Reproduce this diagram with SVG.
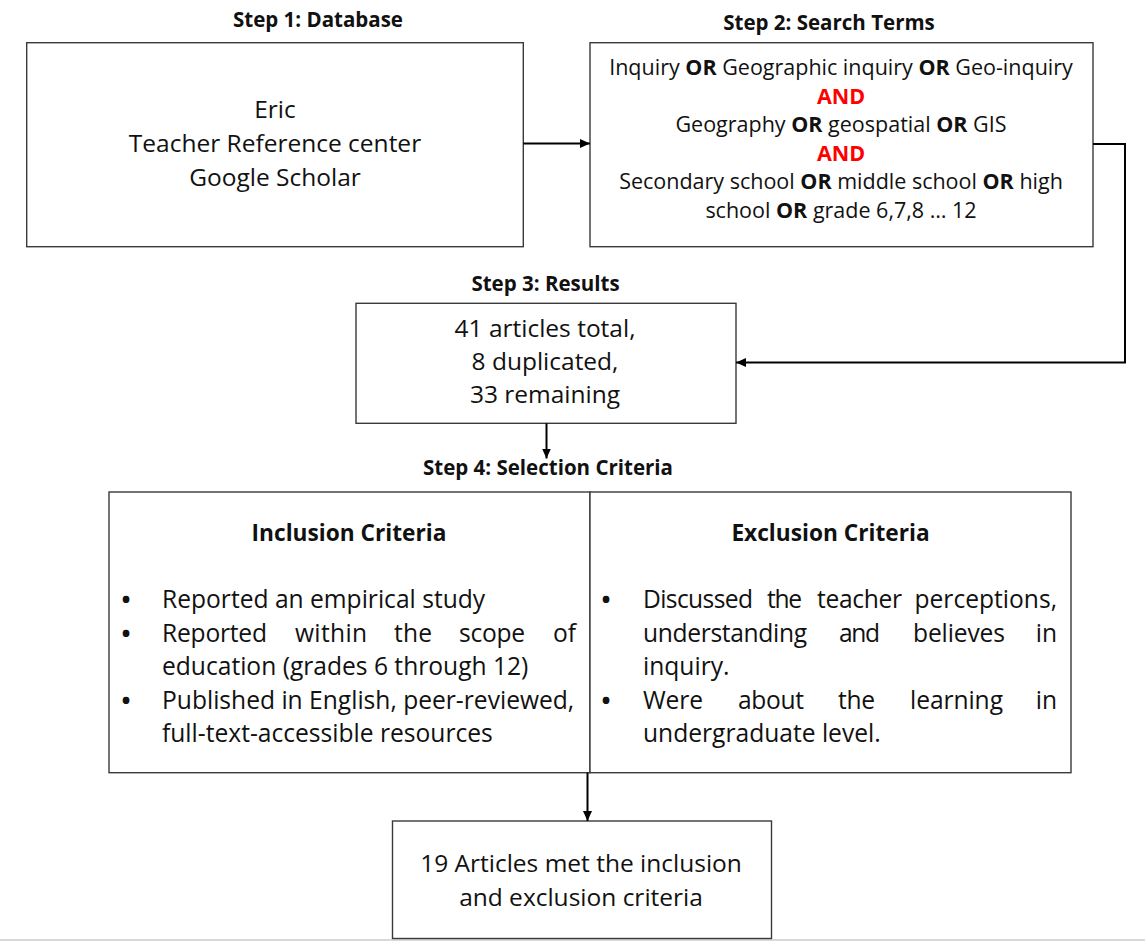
<svg xmlns="http://www.w3.org/2000/svg" width="1145" height="941" viewBox="0 0 1145 941">
<style>
.box{fill:#fff;stroke:#3a3a3a;stroke-width:1.4}
.t{font-family:"Open Sans","Noto Sans",sans-serif;fill:#111;font-size:24.5px}
.c{text-anchor:middle}
.e{text-anchor:end}
.h{font-family:"Open Sans","Noto Sans",sans-serif;font-weight:bold;fill:#111;font-size:20.5px}
.s{font-family:"Open Sans","Noto Sans",sans-serif;fill:#111;font-size:21.5px}
.b{font-weight:bold}
.and{font-weight:bold;fill:#ff0000}
.ch{font-family:"Open Sans","Noto Sans",sans-serif;font-weight:bold;fill:#111;font-size:22.7px}
.l{font-family:"Open Sans","Noto Sans",sans-serif;fill:#111;font-size:24.6px}
.dot{font-family:"Open Sans","Noto Sans",sans-serif;font-weight:bold;fill:#111;font-size:24px;text-anchor:middle}
.conn{fill:none;stroke:#000;stroke-width:2}
</style>
<defs>
<marker id="arr" markerUnits="userSpaceOnUse" markerWidth="11" markerHeight="9" refX="10" refY="4.5" orient="auto">
<path d="M0,0 L10,4.5 L0,9 z" fill="#000"/>
</marker>
</defs>
<rect x="0" y="0" width="1145" height="941" fill="#fff"/>
<rect x="0" y="939" width="1145" height="2" fill="#d9d9d9"/>

<g id="step1">
<text class="h c" x="318" y="27">Step 1: Database</text>
<rect class="box" x="26.7" y="42.7" width="496.6" height="204"/>
<text class="t c" x="275" y="118">Eric</text>
<text class="t c" x="275" y="152">Teacher Reference center</text>
<text class="t c" x="275" y="186">Google Scholar</text>
</g>

<g id="step2">
<text class="h c" x="829" y="30">Step 2: Search Terms</text>
<rect class="box" x="590" y="42.7" width="503" height="204"/>
<text class="s c" x="841" y="75">Inquiry <tspan class="b">OR</tspan> Geographic inquiry <tspan class="b">OR</tspan> Geo-inquiry</text>
<text class="s c and" x="841" y="103.5">AND</text>
<text class="s c" x="841" y="132">Geography <tspan class="b">OR</tspan> geospatial <tspan class="b">OR</tspan> GIS</text>
<text class="s c and" x="841" y="160.5">AND</text>
<text class="s c" x="841" y="189">Secondary school <tspan class="b">OR</tspan> middle school <tspan class="b">OR</tspan> high</text>
<text class="s c" x="841" y="217.5">school <tspan class="b">OR</tspan> grade 6,7,8 … 12</text>
</g>

<g id="step3">
<text class="h c" x="545.5" y="290.5">Step 3: Results</text>
<rect class="box" x="356" y="303.3" width="380" height="120"/>
<text class="t c" x="545" y="336.5">41 articles total,</text>
<text class="t c" x="545" y="369.5">8 duplicated,</text>
<text class="t c" x="545" y="402.5">33 remaining</text>
</g>

<g id="step4">
<text class="h c" x="548" y="475">Step 4: Selection Criteria</text>
</g>

<g id="inclusion">
<rect class="box" x="109" y="492" width="481" height="280.7"/>
<text class="ch c" x="349" y="541">Inclusion Criteria</text>
<text class="dot" x="126" y="608">•</text>
<text class="l" x="162" y="608">Reported an empirical study</text>
<text class="dot" x="126" y="641.5">•</text>
<text class="l" x="162" y="641.5" textLength="105">Reported</text>
<text class="l" x="295" y="641.5" textLength="72">within</text>
<text class="l" x="394" y="641.5" textLength="38">the</text>
<text class="l" x="459" y="641.5" textLength="66">scope</text>
<text class="l e" x="576" y="641.5">of</text>
<text class="l" x="162" y="675">education (grades 6 through 12)</text>
<text class="dot" x="126" y="708.5">•</text>
<text class="l" x="162" y="708.5">Published in English, peer-reviewed,</text>
<text class="l" x="162" y="742">full-text-accessible resources</text>
</g>

<g id="exclusion">
<rect class="box" x="590" y="492" width="481" height="280.7"/>
<text class="ch c" x="830.5" y="541">Exclusion Criteria</text>
<text class="dot" x="606" y="608">•</text>
<text class="l" x="643" y="608" textLength="110">Discussed</text>
<text class="l" x="767" y="608" textLength="35">the</text>
<text class="l" x="817" y="608" textLength="85">teacher</text>
<text class="l e" x="1057" y="608">perceptions,</text>
<text class="l" x="643" y="641.5" textLength="164">understanding</text>
<text class="l" x="839" y="641.5" textLength="41">and</text>
<text class="l" x="913" y="641.5" textLength="92">believes</text>
<text class="l e" x="1057" y="641.5">in</text>
<text class="l" x="643" y="675">inquiry.</text>
<text class="dot" x="606" y="708.5">•</text>
<text class="l" x="643" y="708.5" textLength="60">Were</text>
<text class="l" x="738" y="708.5" textLength="66">about</text>
<text class="l" x="838" y="708.5" textLength="37">the</text>
<text class="l" x="910" y="708.5" textLength="93">learning</text>
<text class="l e" x="1057" y="708.5">in</text>
<text class="l" x="643" y="742">undergraduate level.</text>
</g>

<g id="result">
<rect class="box" x="392.5" y="821" width="379" height="117.5"/>
<text class="t c" x="581" y="871.5">19 Articles met the inclusion</text>
<text class="t c" x="581" y="905.5">and exclusion criteria</text>
</g>

<g id="connectors">
<line class="conn" x1="523.3" y1="143.5" x2="590" y2="143.5" marker-end="url(#arr)"/>
<path class="conn" d="M1093,144 H1125 V362.5 H736" marker-end="url(#arr)"/>
<line class="conn" x1="546.5" y1="423.3" x2="546.5" y2="458.5" marker-end="url(#arr)"/>
<line class="conn" x1="587.5" y1="772.7" x2="587.5" y2="821" marker-end="url(#arr)"/>
</g>
</svg>
